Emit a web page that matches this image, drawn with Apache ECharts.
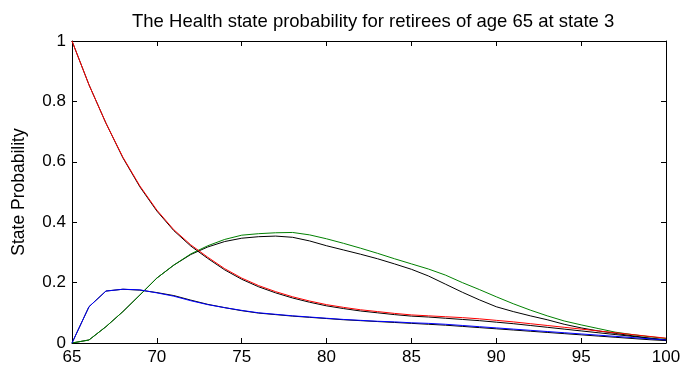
<!DOCTYPE html>
<html>
<head>
<meta charset="utf-8">
<script src="https://cdn.jsdelivr.net/npm/echarts@6/dist/echarts.min.js"></script>
<style>html,body{margin:0;padding:0;background:#fff}#c{width:685px;height:369px}</style>
</head>
<body>
<div id="c"></div>
<script>
var ages = [65,66,67,68,69,70,71,72,73,74,75,76,77,78,79,80,81,82,83,84,85,86,87,88,89,90,91,92,93,94,95,96,97,98,99,100];
var xTicks = [65,70,75,80,85,90,95,100];
var yTicks = [0,0.2,0.4,0.6,0.8,1];

var redState = [1.0,0.855,0.728,0.615,0.52,0.44,0.375,0.325,0.284,0.246,0.215,0.19,0.17,0.153,0.139,0.127,0.118,0.11,0.104,0.098,0.093,0.09,0.087,0.084,0.08,0.075,0.07,0.064,0.058,0.052,0.046,0.04,0.034,0.028,0.022,0.016];
var blackState3 = [1.0,0.855,0.728,0.613,0.517,0.437,0.372,0.321,0.28,0.242,0.211,0.186,0.166,0.149,0.135,0.123,0.114,0.106,0.1,0.094,0.089,0.086,0.082,0.078,0.074,0.069,0.064,0.058,0.052,0.046,0.04,0.034,0.028,0.022,0.016,0.011];
var blueState = [0,0.12,0.172,0.178,0.176,0.166,0.155,0.14,0.127,0.117,0.108,0.1,0.095,0.09,0.086,0.082,0.078,0.075,0.072,0.07,0.067,0.065,0.062,0.058,0.054,0.05,0.046,0.042,0.038,0.034,0.03,0.026,0.022,0.018,0.014,0.01];
var blackState2 = [0,0.12,0.172,0.178,0.175,0.167,0.157,0.142,0.128,0.117,0.107,0.099,0.094,0.089,0.085,0.081,0.077,0.074,0.071,0.068,0.065,0.062,0.059,0.055,0.051,0.047,0.043,0.039,0.035,0.031,0.027,0.023,0.019,0.015,0.011,0.008];
var greenState = [0,0.01,0.054,0.104,0.159,0.215,0.258,0.295,0.322,0.343,0.357,0.362,0.365,0.366,0.358,0.345,0.33,0.314,0.297,0.279,0.262,0.245,0.225,0.2,0.177,0.153,0.13,0.109,0.09,0.073,0.06,0.048,0.036,0.028,0.021,0.015];
var blackState1 = [0,0.01,0.054,0.104,0.159,0.215,0.258,0.293,0.318,0.336,0.347,0.352,0.354,0.35,0.338,0.322,0.308,0.294,0.279,0.262,0.244,0.222,0.195,0.168,0.143,0.12,0.104,0.09,0.077,0.062,0.05,0.04,0.032,0.024,0.016,0.009];

function pairs(vals){ return ages.map(function(a,i){ return [a, vals[i]]; }); }
function line(vals, color){
  return {type:'line', data:pairs(vals), showSymbol:false, symbol:'none', animation:false,
          lineStyle:{color:color, width:1}, itemStyle:{color:color}, z:2};
}

var chart = echarts.init(document.getElementById('c'));
var axisCommon = {
  axisLine:{show:true, onZero:false, lineStyle:{color:'#000', width:1}},
  axisTick:{show:true, inside:true, length:5, lineStyle:{color:'#000'}},
  splitLine:{show:false}
};
chart.setOption({
  animation:false,
  backgroundColor:'#fff',
  title:{text:'The Health state probability for retirees of age 65 at state 3', left:127, top:7,
         textStyle:{fontFamily:'Liberation Sans, Arial', fontSize:18.5, fontWeight:'normal', color:'#000'}},
  grid:{left:72, right:19, top:41, bottom:26},
  xAxis:[
    Object.assign({type:'value', min:xTicks[0], max:xTicks[xTicks.length-1], interval:5, position:'bottom',
      axisLabel:{color:'#000', fontSize:17, fontFamily:'Liberation Sans, Arial', margin:6}}, axisCommon),
    Object.assign({type:'value', min:xTicks[0], max:xTicks[xTicks.length-1], interval:5, position:'top',
      axisLabel:{show:false}}, axisCommon)
  ],
  yAxis:[
    Object.assign({type:'value', min:yTicks[0], max:yTicks[yTicks.length-1], interval:0.2, position:'left',
      name:'State Probability', nameLocation:'middle', nameGap:44,
      nameTextStyle:{color:'#000', fontSize:17.5, fontFamily:'Liberation Sans, Arial'},
      axisLabel:{color:'#000', fontSize:17, fontFamily:'Liberation Sans, Arial', margin:6,
        formatter:function(v){ return String(Math.round(v*10)/10); }}}, axisCommon),
    Object.assign({type:'value', min:yTicks[0], max:yTicks[yTicks.length-1], interval:0.2, position:'right',
      axisLabel:{show:false}}, axisCommon)
  ],
  series:[
    line(blackState3,'#000000'),
    line(blackState2,'#000000'),
    line(blackState1,'#000000'),
    line(greenState,'#008000'),
    line(blueState,'#0000ff'),
    line(redState,'#ff0000')
  ]
});
</script>
</body>
</html>
